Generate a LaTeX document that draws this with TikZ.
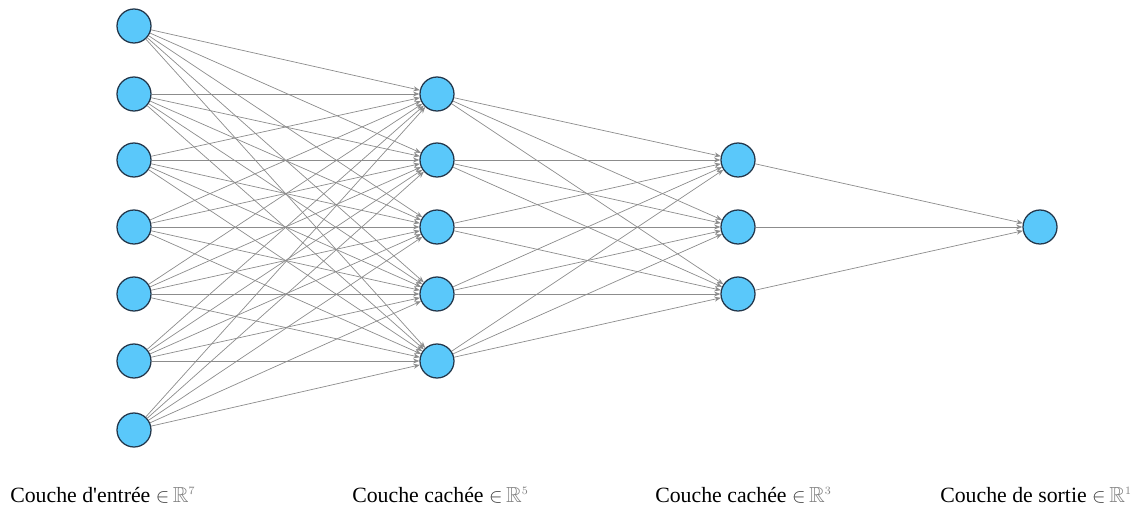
\documentclass[tikz,border=0pt]{standalone}
\usepackage{fontspec}
\usepackage{amssymb}
\setmainfont{Liberation Serif}
\usetikzlibrary{arrows.meta}
\definecolor{neuronfill}{RGB}{90,200,250}
\definecolor{neuronedge}{RGB}{35,55,75}
\definecolor{wire}{RGB}{140,140,140}
\tikzset{
  neuron/.style={circle, draw=neuronedge, line width=0.9pt, fill=neuronfill, minimum size=0.85cm, inner sep=0pt},
  wireline/.style={draw=wire, line width=0.5pt, -{Stealth[length=4.5pt,width=3.5pt]}},
  layerlabel/.style={anchor=base west, font=\fontsize{15.5}{18}\selectfont, inner sep=0pt},
}
\newcommand{\realspace}[1]{{\color{darkgray}\(\in\)}\,{\color{gray}\(\mathbb{R}^{\scriptscriptstyle #1}\)}}
\begin{document}
\begin{tikzpicture}[x=0.025cm, y=-0.025cm]
\useasboundingbox (0,0) rectangle (1136,507);
% input layer
\foreach \i/\y in {1/26,2/94,3/160,4/227,5/294,6/361,7/430}
  \node[neuron] (a\i) at (134,\y) {};
% first hidden layer
\foreach \i/\y in {1/94,2/160,3/227,4/294,5/361}
  \node[neuron] (b\i) at (437,\y) {};
% second hidden layer
\foreach \i/\y in {1/160,2/227,3/294}
  \node[neuron] (c\i) at (738,\y) {};
% output layer
\node[neuron] (d1) at (1040,227) {};
% fully connected weights
\foreach \i in {1,...,7}
  \foreach \j in {1,...,5}
    \draw[wireline] (a\i) -- (b\j);
\foreach \i in {1,...,5}
  \foreach \j in {1,...,3}
    \draw[wireline] (b\i) -- (c\j);
\foreach \i in {1,...,3}
  \draw[wireline] (c\i) -- (d1);
% layer captions
\node[layerlabel] (l1) at (10,502) {Couche d\textquotesingle entrée \realspace{7}};
\node[layerlabel] (l2) at (352,502) {Couche cachée \realspace{5}};
\node[layerlabel] (l3) at (655,502) {Couche cachée \realspace{3}};
\node[layerlabel] (l4) at (940,502) {Couche de sortie \realspace{1}};
\end{tikzpicture}
\end{document}
